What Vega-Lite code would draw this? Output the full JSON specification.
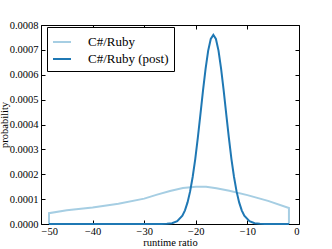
{
  "$schema": "https://vega.github.io/schema/vega-lite/v6.json",
  "autosize": "none",
  "width": 258,
  "height": 199,
  "padding": {"left": 41, "top": 25, "right": 33, "bottom": 25},
  "background": "white",
  "config": {
    "view": {"stroke": null},
    "font": "Liberation Serif",
    "text": {"font": "Liberation Serif"},
    "legend": {"labelFont": "Liberation Serif"},
    "axis": {
      "domainColor": "black", "domainWidth": 1, "tickColor": "black", "tickSize": -4,
      "grid": false, "labelColor": "black", "titleColor": "black",
      "labelFont": "Liberation Serif", "titleFont": "Liberation Serif",
      "labelFontSize": 10.5, "titleFontSize": 10.5, "titleFontWeight": "normal"
    }
  },
  "data": {"values": [
    {"s": "C#/Ruby", "i": 0, "x": -48.45, "p": 0},
    {"s": "C#/Ruby", "i": 1, "x": -48.45, "p": 0.0000436},
    {"s": "C#/Ruby", "i": 2, "x": -45, "p": 0.000055},
    {"s": "C#/Ruby", "i": 3, "x": -40, "p": 0.000066},
    {"s": "C#/Ruby", "i": 4, "x": -35, "p": 0.000081},
    {"s": "C#/Ruby", "i": 5, "x": -30, "p": 0.000102},
    {"s": "C#/Ruby", "i": 6, "x": -27.5, "p": 0.000118},
    {"s": "C#/Ruby", "i": 7, "x": -25, "p": 0.000133},
    {"s": "C#/Ruby", "i": 8, "x": -22.5, "p": 0.000145},
    {"s": "C#/Ruby", "i": 9, "x": -20, "p": 0.00015},
    {"s": "C#/Ruby", "i": 10, "x": -18, "p": 0.00015},
    {"s": "C#/Ruby", "i": 11, "x": -16, "p": 0.000144},
    {"s": "C#/Ruby", "i": 12, "x": -13.5, "p": 0.000134},
    {"s": "C#/Ruby", "i": 13, "x": -10, "p": 0.000116},
    {"s": "C#/Ruby", "i": 14, "x": -6, "p": 0.000093},
    {"s": "C#/Ruby", "i": 15, "x": -1.95, "p": 0.000064},
    {"s": "C#/Ruby", "i": 16, "x": -1.95, "p": 0},
    {"s": "C#/Ruby (post)", "i": 0, "x": -48.45, "p": 0},
    {"s": "C#/Ruby (post)", "i": 1, "x": -26.6, "p": 0},
    {"s": "C#/Ruby (post)", "i": 2, "x": -25.6, "p": 0.0000007},
    {"s": "C#/Ruby (post)", "i": 3, "x": -24.6, "p": 0.000003},
    {"s": "C#/Ruby (post)", "i": 4, "x": -23.6, "p": 0.000011},
    {"s": "C#/Ruby (post)", "i": 5, "x": -22.6, "p": 0.000033},
    {"s": "C#/Ruby (post)", "i": 6, "x": -22.1, "p": 0.000055},
    {"s": "C#/Ruby (post)", "i": 7, "x": -21.6, "p": 0.000087},
    {"s": "C#/Ruby (post)", "i": 8, "x": -21.1, "p": 0.000131},
    {"s": "C#/Ruby (post)", "i": 9, "x": -20.6, "p": 0.00019},
    {"s": "C#/Ruby (post)", "i": 10, "x": -20.1, "p": 0.000262},
    {"s": "C#/Ruby (post)", "i": 11, "x": -19.6, "p": 0.000348},
    {"s": "C#/Ruby (post)", "i": 12, "x": -19.1, "p": 0.000442},
    {"s": "C#/Ruby (post)", "i": 13, "x": -18.6, "p": 0.000537},
    {"s": "C#/Ruby (post)", "i": 14, "x": -18.1, "p": 0.000625},
    {"s": "C#/Ruby (post)", "i": 15, "x": -17.6, "p": 0.000697},
    {"s": "C#/Ruby (post)", "i": 16, "x": -17.1, "p": 0.000744},
    {"s": "C#/Ruby (post)", "i": 17, "x": -16.6, "p": 0.00076},
    {"s": "C#/Ruby (post)", "i": 18, "x": -16.1, "p": 0.000744},
    {"s": "C#/Ruby (post)", "i": 19, "x": -15.6, "p": 0.000697},
    {"s": "C#/Ruby (post)", "i": 20, "x": -15.1, "p": 0.000625},
    {"s": "C#/Ruby (post)", "i": 21, "x": -14.6, "p": 0.000537},
    {"s": "C#/Ruby (post)", "i": 22, "x": -14.1, "p": 0.000442},
    {"s": "C#/Ruby (post)", "i": 23, "x": -13.6, "p": 0.000348},
    {"s": "C#/Ruby (post)", "i": 24, "x": -13.1, "p": 0.000262},
    {"s": "C#/Ruby (post)", "i": 25, "x": -12.6, "p": 0.00019},
    {"s": "C#/Ruby (post)", "i": 26, "x": -12.1, "p": 0.000131},
    {"s": "C#/Ruby (post)", "i": 27, "x": -11.6, "p": 0.000087},
    {"s": "C#/Ruby (post)", "i": 28, "x": -11.1, "p": 0.000055},
    {"s": "C#/Ruby (post)", "i": 29, "x": -10.6, "p": 0.000033},
    {"s": "C#/Ruby (post)", "i": 30, "x": -9.6, "p": 0.000011},
    {"s": "C#/Ruby (post)", "i": 31, "x": -8.6, "p": 0.000003},
    {"s": "C#/Ruby (post)", "i": 32, "x": -7.6, "p": 0.0000007},
    {"s": "C#/Ruby (post)", "i": 33, "x": -6.6, "p": 0},
    {"s": "C#/Ruby (post)", "i": 34, "x": -1.95, "p": 0}
  ]},
  "layer": [
    {
      "mark": {"type": "line", "strokeWidth": 2, "strokeOpacity": 0},
      "encoding": {
        "x": {"field": "x", "type": "quantitative", "scale": {"domain": [-50, 0], "nice": false, "zero": false},
              "axis": {"orient": "top", "labels": false, "title": null, "values": [-50, -40, -30, -20, -10, 0]}},
        "y": {"field": "p", "type": "quantitative", "scale": {"domain": [0, 0.0008], "nice": false},
              "axis": {"orient": "right", "labels": false, "title": null, "values": [0, 0.0001, 0.0002, 0.0003, 0.0004, 0.0005, 0.0006, 0.0007, 0.0008]}},
        "detail": {"field": "s"}
      }
    },
    {
      "mark": {"type": "line", "strokeWidth": 2},
      "encoding": {
        "x": {"field": "x", "type": "quantitative", "scale": {"domain": [-50, 0], "nice": false, "zero": false},
              "axis": {"orient": "bottom", "title": "runtime ratio", "values": [-50, -40, -30, -20, -10, 0], "labelPadding": 6, "titlePadding": 1}},
        "y": {"field": "p", "type": "quantitative", "scale": {"domain": [0, 0.0008], "nice": false},
              "axis": {"orient": "left", "title": "probability", "format": ".4f", "values": [0, 0.0001, 0.0002, 0.0003, 0.0004, 0.0005, 0.0006, 0.0007, 0.0008], "labelPadding": 7, "titlePadding": 0}},
        "order": {"field": "i", "type": "quantitative"},
        "color": {"field": "s", "type": "nominal",
                  "scale": {"domain": ["C#/Ruby", "C#/Ruby (post)"], "range": ["#a6cee3", "#1f78b4"]},
                  "legend": {"title": null, "orient": "none", "legendX": 6, "legendY": 2,
                             "symbolType": "stroke", "symbolSize": 324, "symbolStrokeWidth": 2,
                             "labelFont": "Liberation Serif", "labelFontSize": 13, "labelColor": "black",
                             "labelOffset": 16, "padding": 5, "rowPadding": 0,
                             "strokeColor": "black", "fillColor": "white", "cornerRadius": 0}}
      }
    }
  ],
  "resolve": {"axis": {"x": "independent", "y": "independent"}}
}
